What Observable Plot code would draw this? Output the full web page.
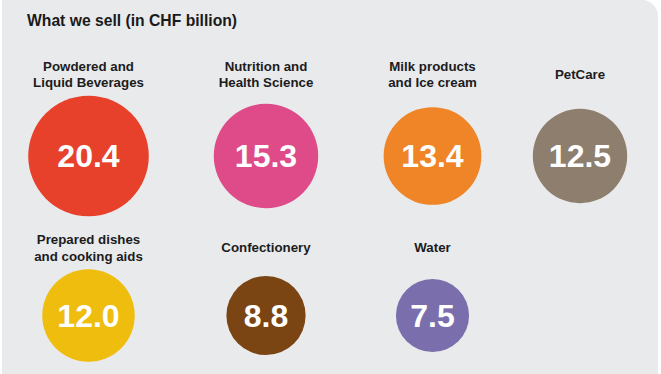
<!DOCTYPE html>
<html>
<head>
<meta charset="utf-8">
<script src="https://cdn.jsdelivr.net/npm/d3@7"></script>
<script src="https://cdn.jsdelivr.net/npm/@observablehq/plot@0.6"></script>
<style>
  html, body { margin: 0; padding: 0; background: #ffffff; }
  #panel {
    position: relative;
    margin-left: 2px;
    width: 656px;
    height: 374px;
    background: #e9eaec;
    border-top-right-radius: 16px;
    overflow: hidden;
    font-family: "Liberation Sans", Arial, Helvetica, sans-serif;
  }
  #title {
    height: 40px;
    line-height: 42px;
    padding-left: 25px;
    font-size: 15.7px;
    font-weight: bold;
    color: #1a1a1a;
  }
  #chart svg { display: block; }
</style>
</head>
<body>
<div id="panel">
  <div id="title">What we sell (in CHF billion)</div>
  <div id="chart"></div>
</div>
<script>
// Data
const categories = [
  "Powdered and\nLiquid Beverages",
  "Nutrition and\nHealth Science",
  "Milk products\nand Ice cream",
  "PetCare",
  "Prepared dishes\nand cooking aids",
  "Confectionery",
  "Water"
];
const sales = [20.4, 15.3, 13.4, 12.5, 12.0, 8.8, 7.5];
// layout slot of each category (grid column / row index)
const gridColumn = [0, 1, 2, 3, 0, 1, 2];
const gridRow = [0, 0, 0, 0, 1, 1, 1];

const colors = ["#e8412b", "#de4b88", "#ef8526", "#8d7e6e", "#eebd0e", "#7a4413", "#7a6fac"];

const data = categories.map((c, i) => ({
  name: c, value: sales[i], col: gridColumn[i], row: gridRow[i]
}));

const font = "Liberation Sans, Arial, Helvetica, sans-serif";

const chart = Plot.plot({
  width: 656,
  height: 334,
  margin: 0,
  x: { type: "linear", domain: [0, 1, 2, 3], range: [86, 263.5, 430, 577.5], axis: null },
  y: { type: "linear", domain: [0, 1], range: [115.5, 275], axis: null },
  r: { type: "sqrt", domain: [0, 20.4], range: [0, 60.3] },
  color: { domain: categories, range: colors },
  style: { background: "transparent", fontFamily: font },
  marks: [
    Plot.dot(data, { x: "col", y: "row", r: "value", fill: "name", stroke: "none" }),
    Plot.text(data, {
      x: "col", y: "row", text: d => d.value.toFixed(1),
      fill: "#ffffff", fontSize: 32, fontWeight: "bold", fontFamily: font, dy: 1
    }),
    Plot.text(data.filter(d => d.row === 0), {
      x: "col", y: "row", text: "name", dy: -82.5,
      fill: "#1c1c1c", fontSize: 13.3, fontWeight: "bold", fontFamily: font,
      lineAnchor: "middle", lineHeight: 1.24
    }),
    Plot.text(data.filter(d => d.row === 1), {
      x: "col", y: "row", text: "name", dy: -68.5,
      fill: "#1c1c1c", fontSize: 13.3, fontWeight: "bold", fontFamily: font,
      lineAnchor: "middle", lineHeight: 1.24
    })
  ]
});
document.getElementById("chart").appendChild(chart);
</script>
</body>
</html>
